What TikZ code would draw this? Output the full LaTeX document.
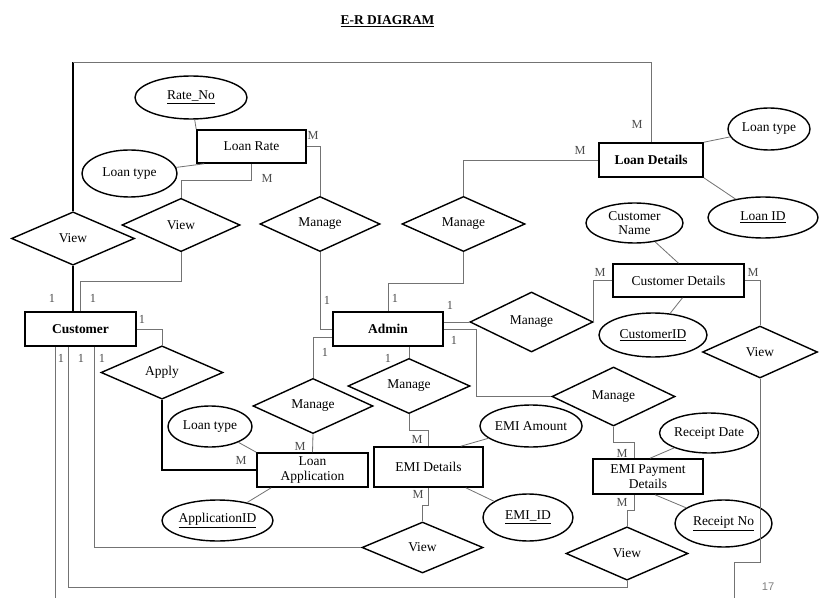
\documentclass[tikz,border=0pt]{standalone}
\usepackage{fontspec}
\setmainfont{Liberation Serif}
\newfontfamily\pagefont{Liberation Sans}
\usetikzlibrary{shapes.geometric, calc}

\begin{document}
\begin{tikzpicture}[
    x=0.03cm, y=-0.03cm,
    font=\fontsize{11.5}{13}\selectfont,
    entity/.style = {draw, rectangle, line width=1.3pt, align=center, inner sep=1pt},
    rel/.style = {draw, diamond, line width=1.2pt, minimum width=3.66cm, minimum height=1.6cm, inner sep=0pt},
    attr/.style = {draw, ellipse, line width=1.2pt, align=center, inner sep=0pt, font=\fontsize{11.5}{12.5}\selectfont},
    link/.style = {draw=black!55, line width=0.7pt},
    strong/.style = {draw=black, line width=1.3pt},
    card/.style = {text=black!70, font=\fontsize{10.5}{12}\selectfont, inner sep=0pt}
]
\useasboundingbox (0,0) rectangle (819,598);

% =========================================================
% TITLE
% =========================================================
\node (title) at (387.5,21) {\textbf{\underline{E-R DIAGRAM}}};

% =========================================================
% ENTITIES
% =========================================================
\node[entity, minimum width=3.33cm, minimum height=1.02cm] (cust) at (80.5,329) {\textbf{Customer}};
\node[entity, minimum width=3.27cm, minimum height=0.99cm] (lrate) at (251.5,146.5) {Loan Rate};
\node[entity, minimum width=3.12cm, minimum height=1.02cm] (ldet) at (651,160) {\textbf{Loan Details}};
\node[entity, minimum width=3.30cm, minimum height=1.02cm] (admin) at (388,329) {\textbf{Admin}};
\node[entity, minimum width=3.93cm, minimum height=0.99cm] (cdet) at (678.5,280.5) {Customer Details};
\node[entity, minimum width=3.33cm, minimum height=1.02cm] (lapp) at (312.5,470) {Loan\\Application};
\node[entity, minimum width=3.27cm, minimum height=1.20cm] (edet) at (428.5,467) {EMI Details};
\node[entity, minimum width=3.30cm, minimum height=1.05cm] (epay) at (648,476.5) {EMI Payment\\Details};

% =========================================================
% RELATIONSHIPS
% =========================================================
\node[rel, minimum width=3.69cm] (view1) at (73,238.5) {View};
\node[rel, minimum width=3.54cm] (view2) at (181,225) {View};
\node[rel, minimum width=3.60cm] (mng1) at (320,224) {Manage};
\node[rel, minimum width=3.69cm] (mng2) at (463.5,224) {Manage};
\node[rel, minimum width=3.69cm, minimum height=1.80cm] (mng3) at (531.5,322) {Manage};
\node[rel, minimum width=3.45cm, minimum height=1.56cm] (view3) at (760,352) {View};
\node[rel] (apply) at (162,372.5) {Apply};
\node[rel, minimum width=3.60cm] (mng5) at (313,406) {Manage};
\node[rel] (mng6) at (409,386) {Manage};
\node[rel, minimum width=3.69cm, minimum height=1.77cm] (mng4) at (613.5,396.5) {Manage};
\node[rel, minimum width=3.63cm, minimum height=1.53cm] (view4) at (422.5,547.5) {View};
\node[rel] (view5) at (627,553.5) {View};

% =========================================================
% ATTRIBUTES
% =========================================================
\node[attr, minimum width=3.36cm, minimum height=1.29cm] (rateno) at (191,97.5) {\underline{Rate\_No}};
\node[attr, minimum width=2.85cm, minimum height=1.41cm] (ltype1) at (129.5,173.5) {Loan type};
\node[attr, minimum width=2.46cm, minimum height=1.26cm] (ltype2) at (769,129) {Loan type};
\node[attr, minimum width=3.30cm, minimum height=1.23cm] (loanid) at (763,217.5) {\underline{Loan ID}};
\node[attr, minimum width=2.91cm, minimum height=1.20cm] (cname) at (634.5,223) {Customer\\Name};
\node[attr, minimum width=3.24cm, minimum height=1.32cm] (custid) at (653,335) {\underline{CustomerID}};
\node[attr, minimum width=2.52cm, minimum height=1.23cm] (ltype3) at (210,426.5) {Loan type};
\node[attr, minimum width=3.33cm, minimum height=1.23cm] (appid) at (217.5,520.5) {\underline{ApplicationID}};
\node[attr, minimum width=2.88cm, minimum height=1.26cm] (emiamt) at (531,426) {EMI Amount};
\node[attr, minimum width=2.70cm, minimum height=1.41cm] (emiid) at (528,517.5) {\underline{EMI\_ID}};
\node[attr, minimum width=2.94cm, minimum height=1.20cm] (rdate) at (709,433) {Receipt Date};
\node[attr, minimum width=2.91cm, minimum height=1.41cm] (rno) at (723.5,523.5) {\underline{Receipt No}};

% =========================================================
% WIRING: CUSTOMER SIDE
% =========================================================
\draw[strong] (view1.north) -- ++(0,-149) coordinate (frame_tl);
\draw[link] (frame_tl) -| (ldet.north);
\draw[strong] (view1.south) -- (view1.south |- cust.north);
\draw[link] (view2.south) -- ++(0,29) -| (cust.north);
\draw[link] (lrate.south) -- ++(0,17) -| (view2.north);
\draw[link] (cust.east) -| (apply.north);
\draw[strong] (apply.south) |- (lapp.west);

% three lines below Customer
\draw[link] ($(cust.south west)+(31,0)$) -- ++(0,252);
\draw[link] ($(cust.south west)+(44,0)$) |- ($(view5.south)+(0,7)$) -- (view5.south);
\draw[link] ($(cust.south west)+(70,0)$) |- (view4.west);

% =========================================================
% WIRING: ADMIN SIDE
% =========================================================
\draw[link] (lrate.east) -| (mng1.north);
\draw[link] (mng1.south) |- (admin.west);
\draw[link] (ldet.west) -| (mng2.north);
\draw[link] (mng2.south) -- ++(0,31) -| (admin.north);
\draw[link] (mng3.west -| admin.east) -- (mng3.west);
\draw[link] (admin.east) -- ++(33,0) |- (mng4.west);
\draw[link] (mng3.east) |- (cdet.west);
\draw[link] (cdet.east) -| (view3.north);
\draw[link] (view3.south) -- ++(0,184) -- ++(-26,0) -- ++(0,36);
\draw[link] (mng5.north) |- ($(admin.south west)+(0,-9)$);
\draw[link] (mng5.south) -- (lapp.north);
\draw[link] (mng6.north |- admin.south) -- (mng6.north);
\draw[link] (mng6.south) -- ++(0,16) -| (edet.north);
\draw[link] (edet.south) -- ++(0,18) -| (view4.north);
\draw[link] (mng4.south) -- ++(0,16) -| ($(epay.north)+(-14,0)$);
\draw[link] ($(epay.south)+(-14,0)$) -- ++(0,16) -| (view5.north);

% =========================================================
% WIRING: ATTRIBUTES
% =========================================================
\draw[link] (rateno) -- (lrate.north west);
\draw[link] (ltype1) -- ($(lrate.south west)+(8,0)$);
\draw[link] (ltype2) -- (ldet.north east);
\draw[link] (loanid) -- (ldet.south east);
\draw[link] (cname) -- (cdet.north);
\draw[link] (custid) -- ($(cdet.south)+(4,0)$);
\draw[link] (ltype3) -- (lapp.north west);
\draw[link] (appid) -- ($(lapp.south west)+(15,0)$);
\draw[link] (emiamt) -- ($(edet.north east)+(-23,0)$);
\draw[link] (emiid) -- ($(edet.south east)+(-18,0)$);
\draw[link] (rdate) -- ($(epay.north)+(2,0)$);
\draw[link] (rno) -- ($(epay.south)+(7,0)$);

% =========================================================
% CARDINALITIES
% =========================================================
\node[card] (c_ld_top) at (637,124) {M};
\node[card] (c_ld_left) at (580,150) {M};
\node[card] (c_lr_right) at (313,135) {M};
\node[card] (c_lr_down) at (267,178) {M};
\node[card] (c_cu_v1) at (52,298) {1};
\node[card] (c_cu_v2) at (93,298) {1};
\node[card] (c_ad_m1) at (327,300) {1};
\node[card] (c_ad_m2) at (395,298) {1};
\node[card] (c_ad_m3) at (450,305) {1};
\node[card] (c_ad_m4) at (454,340) {1};
\node[card] (c_cd_left) at (600,272) {M};
\node[card] (c_cd_right) at (753,272) {M};
\node[card] (c_cu_ap) at (142,319) {1};
\node[card] (c_cu_b1) at (61,358) {1};
\node[card] (c_cu_b2) at (81,358) {1};
\node[card] (c_cu_b3) at (102,358) {1};
\node[card] (c_la_ap) at (241,460) {M};
\node[card] (c_la_m5) at (300,446) {M};
\node[card] (c_ad_m5) at (325,352) {1};
\node[card] (c_ad_m6) at (388,358) {1};
\node[card] (c_ed_m6) at (417,439) {M};
\node[card] (c_ed_v4) at (418,494) {M};
\node[card] (c_ep_m4) at (622,453) {M};
\node[card] (c_ep_v5) at (622,502) {M};

% page number
\node[text=black!50, font=\pagefont\fontsize{9.5}{11}\selectfont] (pgnum) at (768,587) {17};

\end{tikzpicture}
\end{document}
